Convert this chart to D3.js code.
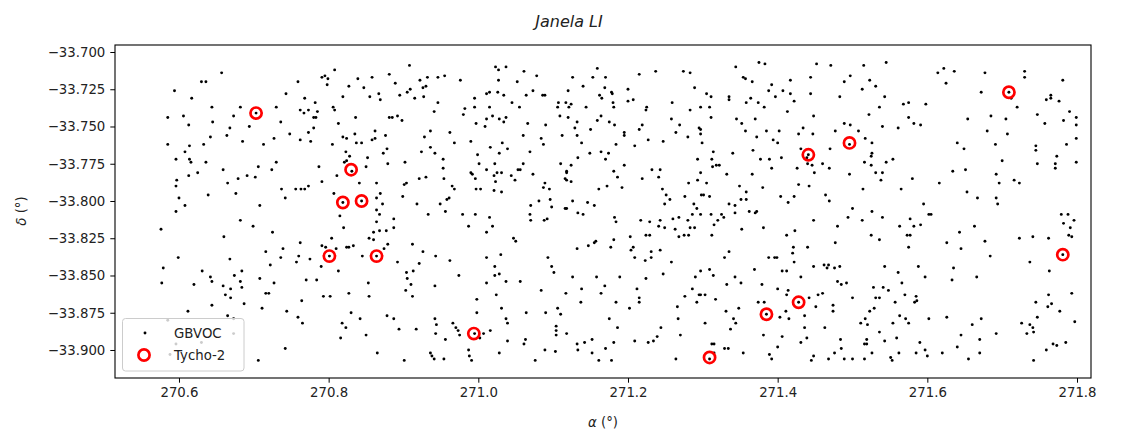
<!DOCTYPE html>
<html>
<head>
<meta charset="utf-8">
<script src="https://cdn.jsdelivr.net/npm/d3@7"></script>
<style>
  html, body { margin: 0; padding: 0; background: #fff; }
  svg { display: block; font-family: "DejaVu Sans", sans-serif; }
</style>
</head>
<body>
<svg id="chart" width="1121" height="433"></svg>
<script>
// Field stars (GBVOC) — right ascension / declination in degrees
const gbvoc = [
  [270.657,-33.714],[270.630,-33.720],[270.636,-33.720],[270.594,-33.726],[270.759,-33.720],[270.743,-33.728],
  [270.617,-33.731],[270.768,-33.731],[270.644,-33.737],[270.682,-33.737],[270.703,-33.741],[270.730,-33.737],
  [270.762,-33.739],[270.767,-33.741],[270.773,-33.739],[270.585,-33.744],[270.606,-33.743],[270.673,-33.743],
  [270.613,-33.749],[270.645,-33.747],[270.736,-33.747],[270.694,-33.750],[270.668,-33.751],[270.642,-33.757],
  [270.664,-33.756],[270.748,-33.755],[270.773,-33.754],[270.585,-33.762],[270.614,-33.763],[270.633,-33.762],
  [270.685,-33.760],[270.713,-33.762],[270.727,-33.758],[270.762,-33.759],[270.608,-33.767],[270.596,-33.772],
  [270.614,-33.772],[270.616,-33.774],[270.636,-33.774],[270.730,-33.774],[270.706,-33.777],[270.659,-33.779],
  [270.724,-33.779],[270.613,-33.783],[270.625,-33.781],[270.597,-33.786],[270.691,-33.783],[270.702,-33.784],
  [270.679,-33.785],[270.665,-33.788],[270.596,-33.790],[270.737,-33.792],[270.756,-33.792],[270.763,-33.792],
  [270.768,-33.792],[270.773,-33.790],[270.676,-33.795],[270.639,-33.796],[270.600,-33.798],[270.742,-33.798],
  [270.608,-33.803],[270.708,-33.803],
  [270.808,-33.712],[270.908,-33.709],[270.791,-33.717],[270.795,-33.716],[270.799,-33.718],[270.798,-33.722],
  [270.839,-33.718],[270.858,-33.717],[270.881,-33.715],[270.827,-33.723],[270.847,-33.724],[270.889,-33.721],
  [270.922,-33.719],[270.932,-33.717],[270.946,-33.717],[270.955,-33.716],[270.976,-33.719],[271.023,-33.710],
  [271.027,-33.712],[271.027,-33.719],[270.926,-33.724],[270.930,-33.723],[270.909,-33.725],[270.905,-33.727],
  [270.867,-33.728],[270.819,-33.730],[270.855,-33.730],[270.869,-33.732],[270.895,-33.729],[270.915,-33.731],
  [270.927,-33.730],[270.782,-33.734],[270.785,-33.740],[270.806,-33.737],[270.808,-33.739],[270.946,-33.734],
  [270.941,-33.740],[270.982,-33.738],[270.995,-33.731],[270.995,-33.737],[271.011,-33.728],[271.015,-33.727],
  [271.026,-33.727],[271.034,-33.729],[271.015,-33.737],[270.980,-33.742],[270.780,-33.744],[270.783,-33.744],
  [270.836,-33.744],[270.881,-33.744],[270.885,-33.744],[270.892,-33.743],[270.898,-33.746],[270.813,-33.748],
  [270.997,-33.748],[271.009,-33.750],[271.011,-33.745],[271.019,-33.743],[271.028,-33.745],[271.034,-33.747],
  [270.780,-33.751],[270.819,-33.757],[270.824,-33.758],[270.835,-33.755],[270.862,-33.753],[270.858,-33.759],
  [270.862,-33.758],[270.876,-33.756],[270.928,-33.757],[270.936,-33.753],[270.962,-33.754],[270.776,-33.760],
  [270.805,-33.762],[270.837,-33.761],[270.844,-33.761],[270.968,-33.761],[270.990,-33.760],[271.032,-33.761],
  [271.016,-33.764],[270.823,-33.767],[270.878,-33.765],[270.873,-33.768],[270.924,-33.767],[270.936,-33.764],
  [270.942,-33.768],[270.999,-33.769],[271.028,-33.768],[270.828,-33.770],[270.852,-33.771],[270.821,-33.774],
  [270.824,-33.773],[270.787,-33.777],[270.831,-33.780],[270.850,-33.777],[270.879,-33.775],[270.902,-33.774],
  [270.953,-33.772],[270.953,-33.778],[271.001,-33.775],[271.022,-33.775],[271.011,-33.779],[270.990,-33.781],
  [270.992,-33.782],[270.996,-33.785],[271.025,-33.781],[271.031,-33.781],[271.021,-33.783],[270.811,-33.783],
  [270.791,-33.787],[270.841,-33.788],[270.864,-33.788],[270.901,-33.789],[270.904,-33.788],[270.921,-33.785],
  [270.930,-33.784],[270.954,-33.785],[270.965,-33.790],[270.968,-33.792],[270.997,-33.792],[271.003,-33.792],
  [271.023,-33.787],[271.021,-33.793],[271.031,-33.794],[270.807,-33.795],[270.869,-33.795],[270.864,-33.798],
  [270.899,-33.797],[270.958,-33.799],[270.961,-33.798],[270.819,-33.801],[270.844,-33.800],[270.872,-33.802],
  [270.918,-33.802],[270.949,-33.802],
  [271.037,-33.710],[271.061,-33.713],[271.078,-33.716],[271.052,-33.720],[271.126,-33.717],[271.159,-33.711],
  [271.153,-33.717],[271.170,-33.717],[271.215,-33.715],[271.237,-33.713],[271.274,-33.713],[271.283,-33.714],
  [271.140,-33.723],[271.289,-33.724],[271.073,-33.726],[271.064,-33.729],[271.086,-33.729],[271.089,-33.729],
  [271.120,-33.726],[271.169,-33.724],[271.178,-33.727],[271.179,-33.728],[271.200,-33.725],[271.045,-33.734],
  [271.055,-33.737],[271.107,-33.734],[271.106,-33.737],[271.117,-33.734],[271.121,-33.737],[271.124,-33.735],
  [271.144,-33.737],[271.162,-33.729],[271.165,-33.731],[271.180,-33.734],[271.181,-33.737],[271.200,-33.733],
  [271.207,-33.732],[271.225,-33.737],[271.224,-33.739],[271.259,-33.734],[271.283,-33.739],[271.037,-33.744],
  [271.066,-33.748],[271.090,-33.749],[271.109,-33.743],[271.120,-33.744],[271.132,-33.747],[271.129,-33.751],
  [271.164,-33.743],[271.159,-33.746],[271.175,-33.747],[271.182,-33.749],[271.150,-33.752],[271.195,-33.754],
  [271.195,-33.756],[271.215,-33.752],[271.219,-33.749],[271.258,-33.745],[271.269,-33.749],[271.264,-33.754],
  [271.295,-33.751],[271.280,-33.757],[271.060,-33.756],[271.084,-33.758],[271.087,-33.762],[271.112,-33.756],
  [271.132,-33.756],[271.138,-33.761],[271.227,-33.759],[271.247,-33.760],[271.209,-33.763],[271.184,-33.762],
  [271.039,-33.765],[271.069,-33.767],[271.133,-33.771],[271.149,-33.768],[271.164,-33.767],[271.174,-33.768],
  [271.170,-33.772],[271.110,-33.775],[271.124,-33.776],[271.118,-33.780],[271.118,-33.781],[271.060,-33.775],
  [271.053,-33.779],[271.056,-33.779],[271.073,-33.782],[271.044,-33.783],[271.049,-33.786],[271.116,-33.785],
  [271.118,-33.786],[271.124,-33.787],[271.089,-33.788],[271.087,-33.791],[271.095,-33.792],[271.195,-33.776],
  [271.181,-33.780],[271.186,-33.784],[271.232,-33.779],[271.243,-33.779],[271.241,-33.784],[271.219,-33.785],
  [271.192,-33.791],[271.172,-33.790],[271.161,-33.792],[271.246,-33.792],[271.251,-33.796],[271.256,-33.799],
  [271.249,-33.802],[271.276,-33.797],[271.281,-33.788],[271.293,-33.786],[271.293,-33.772],[271.288,-33.802],
  [271.081,-33.800],[271.096,-33.799],[271.098,-33.804],[271.126,-33.800],[271.146,-33.801],[271.155,-33.803],
  [271.070,-33.803],
  [271.344,-33.710],[271.375,-33.707],[271.383,-33.708],[271.452,-33.708],[271.471,-33.709],[271.515,-33.709],
  [271.545,-33.707],[271.354,-33.717],[271.357,-33.718],[271.366,-33.720],[271.417,-33.719],[271.444,-33.717],
  [271.489,-33.720],[271.497,-33.716],[271.523,-33.719],[271.531,-33.723],[271.513,-33.725],[271.392,-33.722],
  [271.388,-33.726],[271.407,-33.726],[271.417,-33.728],[271.397,-33.730],[271.305,-33.728],[271.311,-33.730],
  [271.335,-33.730],[271.335,-33.732],[271.364,-33.731],[271.358,-33.734],[271.374,-33.734],[271.382,-33.737],
  [271.422,-33.733],[271.444,-33.728],[271.483,-33.730],[271.543,-33.730],[271.536,-33.737],[271.297,-33.737],
  [271.309,-33.737],[271.311,-33.744],[271.345,-33.745],[271.352,-33.748],[271.370,-33.745],[271.413,-33.740],
  [271.448,-33.743],[271.522,-33.742],[271.489,-33.748],[271.497,-33.749],[271.434,-33.751],[271.428,-33.755],
  [271.447,-33.755],[271.477,-33.753],[271.508,-33.753],[271.540,-33.750],[271.297,-33.752],[271.297,-33.755],
  [271.357,-33.753],[271.372,-33.757],[271.385,-33.753],[271.402,-33.753],[271.394,-33.759],[271.400,-33.761],
  [271.299,-33.761],[271.314,-33.767],[271.340,-33.768],[271.367,-33.766],[271.431,-33.765],[271.470,-33.765],
  [271.496,-33.762],[271.526,-33.761],[271.517,-33.758],[271.441,-33.769],[271.439,-33.771],[271.377,-33.772],
  [271.389,-33.772],[271.405,-33.771],[271.312,-33.772],[271.313,-33.777],[271.318,-33.776],[271.322,-33.776],
  [271.392,-33.778],[271.426,-33.778],[271.440,-33.775],[271.446,-33.776],[271.460,-33.775],[271.469,-33.778],
  [271.516,-33.774],[271.526,-33.768],[271.525,-33.770],[271.525,-33.776],[271.545,-33.774],[271.554,-33.772],
  [271.297,-33.781],[271.332,-33.782],[271.366,-33.782],[271.449,-33.781],[271.496,-33.782],[271.531,-33.781],
  [271.540,-33.781],[271.538,-33.786],[271.305,-33.788],[271.349,-33.790],[271.380,-33.791],[271.428,-33.789],
  [271.442,-33.790],[271.514,-33.792],[271.358,-33.794],[271.298,-33.796],[271.301,-33.796],[271.309,-33.797],
  [271.351,-33.799],[271.358,-33.799],[271.404,-33.797],[271.414,-33.801],[271.422,-33.797],[271.464,-33.796],
  [271.469,-33.800],[271.335,-33.802],[271.343,-33.803],
  [271.614,-33.714],[271.622,-33.711],[271.636,-33.713],[271.625,-33.721],[271.677,-33.714],[271.730,-33.713],
  [271.730,-33.717],[271.781,-33.719],[271.672,-33.727],[271.709,-33.727],[271.712,-33.731],[271.720,-33.737],
  [271.759,-33.732],[271.765,-33.729],[271.765,-33.731],[271.776,-33.733],[271.568,-33.735],[271.575,-33.734],
  [271.598,-33.735],[271.575,-33.744],[271.582,-33.748],[271.591,-33.749],[271.561,-33.751],[271.654,-33.745],
  [271.685,-33.743],[271.705,-33.745],[271.747,-33.742],[271.757,-33.748],[271.782,-33.746],[271.790,-33.740],
  [271.799,-33.744],[271.799,-33.749],[271.680,-33.753],[271.707,-33.755],[271.799,-33.758],[271.786,-33.762],
  [271.640,-33.761],[271.649,-33.765],[271.691,-33.762],[271.745,-33.763],[271.745,-33.766],[271.773,-33.770],
  [271.700,-33.773],[271.747,-33.775],[271.771,-33.775],[271.771,-33.778],[271.799,-33.774],[271.634,-33.780],
  [271.651,-33.779],[271.692,-33.782],[271.696,-33.788],[271.716,-33.786],[271.723,-33.788],[271.580,-33.785],
  [271.616,-33.788],[271.565,-33.792],[271.653,-33.794],[271.667,-33.798],[271.692,-33.798],[271.694,-33.802],
  [271.595,-33.802],
  [270.596,-33.807],[270.576,-33.819],[270.682,-33.813],[270.699,-33.817],[270.660,-33.824],[270.725,-33.821],
  [270.762,-33.828],[270.716,-33.834],[270.739,-33.832],[270.599,-33.838],[270.668,-33.839],[270.736,-33.838],
  [270.760,-33.837],[270.775,-33.839],[270.757,-33.841],[270.722,-33.843],[270.579,-33.845],[270.631,-33.847],
  [270.642,-33.851],[270.644,-33.854],[270.674,-33.850],[270.684,-33.847],[270.682,-33.854],[270.708,-33.852],
  [270.727,-33.855],[270.770,-33.853],[270.577,-33.855],[270.620,-33.856],[270.659,-33.857],[270.669,-33.859],
  [270.684,-33.858],[270.662,-33.863],[270.669,-33.865],[270.716,-33.862],[270.720,-33.862],[270.764,-33.867],
  [270.687,-33.869],[270.644,-33.870],[270.711,-33.872],[270.744,-33.874],[270.612,-33.874],[270.665,-33.877],
  [270.759,-33.878],[270.765,-33.882],[270.585,-33.880],[270.673,-33.879],[270.596,-33.896],[270.630,-33.895],
  [270.588,-33.903],[270.673,-33.889],[270.742,-33.899],[270.706,-33.907],
  [270.815,-33.810],[270.864,-33.806],[270.868,-33.809],[270.933,-33.809],[270.956,-33.807],[270.979,-33.809],
  [270.996,-33.809],[271.015,-33.811],[271.019,-33.817],[270.987,-33.817],[271.011,-33.821],[270.864,-33.814],
  [270.887,-33.812],[270.820,-33.818],[270.860,-33.821],[270.868,-33.820],[270.877,-33.820],[270.887,-33.818],
  [270.804,-33.825],[270.854,-33.825],[270.860,-33.826],[270.791,-33.830],[270.796,-33.831],[270.810,-33.832],
  [270.824,-33.831],[270.827,-33.831],[270.833,-33.830],[270.879,-33.829],[270.874,-33.832],[270.912,-33.829],
  [270.926,-33.834],[270.943,-33.837],[270.962,-33.840],[271.011,-33.838],[271.030,-33.836],[270.801,-33.837],
  [270.864,-33.837],[270.845,-33.837],[270.892,-33.841],[270.921,-33.842],[270.790,-33.844],[270.813,-33.847],
  [270.904,-33.848],[270.913,-33.847],[270.905,-33.852],[270.910,-33.856],[270.903,-33.860],[270.912,-33.864],
  [271.022,-33.844],[271.028,-33.849],[271.022,-33.850],[270.974,-33.850],[271.011,-33.855],[270.784,-33.853],
  [270.942,-33.857],[270.853,-33.855],[270.793,-33.864],[270.802,-33.864],[270.827,-33.862],[270.854,-33.864],
  [270.998,-33.866],[271.024,-33.863],[271.031,-33.872],[270.998,-33.875],[270.830,-33.875],[270.842,-33.879],
  [270.818,-33.882],[270.823,-33.885],[270.878,-33.877],[270.887,-33.879],[270.942,-33.879],[270.944,-33.883],
  [270.966,-33.882],[270.970,-33.885],[270.973,-33.887],[270.975,-33.890],[270.943,-33.889],[270.917,-33.886],
  [270.894,-33.886],[270.850,-33.890],[270.816,-33.892],[270.956,-33.893],[270.995,-33.889],[271.007,-33.889],
  [271.002,-33.892],[271.016,-33.887],[271.028,-33.902],[270.987,-33.900],[270.988,-33.904],[270.991,-33.907],
  [270.936,-33.902],[270.938,-33.904],[270.941,-33.906],[270.954,-33.906],[270.865,-33.902],[270.901,-33.907],
  [271.116,-33.805],[271.118,-33.805],[271.069,-33.809],[271.070,-33.813],[271.088,-33.813],[271.092,-33.812],
  [271.133,-33.808],[271.140,-33.809],[271.182,-33.811],[271.184,-33.814],[271.217,-33.813],[271.229,-33.814],
  [271.243,-33.813],[271.260,-33.812],[271.268,-33.811],[271.280,-33.813],[271.286,-33.809],[271.292,-33.805],
  [271.241,-33.817],[271.249,-33.818],[271.263,-33.819],[271.283,-33.818],[271.289,-33.818],[271.268,-33.824],
  [271.275,-33.823],[271.281,-33.823],[271.224,-33.823],[271.229,-33.823],[271.203,-33.824],[271.181,-33.826],
  [271.047,-33.825],[271.050,-33.827],[271.132,-33.832],[271.147,-33.830],[271.155,-33.828],[271.157,-33.827],
  [271.177,-33.831],[271.204,-33.833],[271.207,-33.831],[271.231,-33.834],[271.243,-33.833],[271.209,-33.838],
  [271.223,-33.840],[271.231,-33.838],[271.258,-33.841],[271.093,-33.838],[271.098,-33.844],[271.101,-33.848],
  [271.126,-33.851],[271.158,-33.851],[271.189,-33.851],[271.224,-33.852],[271.247,-33.849],[271.290,-33.851],
  [271.037,-33.854],[271.056,-33.854],[271.084,-33.860],[271.117,-33.862],[271.138,-33.859],[271.169,-33.857],
  [271.164,-33.862],[271.212,-33.859],[271.215,-33.865],[271.215,-33.868],[271.286,-33.859],[271.295,-33.863],
  [271.276,-33.864],[271.292,-33.868],[271.137,-33.868],[271.184,-33.868],[271.202,-33.872],[271.266,-33.871],
  [271.064,-33.875],[271.090,-33.875],[271.106,-33.872],[271.110,-33.876],[271.175,-33.879],[271.267,-33.879],
  [271.037,-33.879],[271.039,-33.882],[271.104,-33.884],[271.104,-33.887],[271.104,-33.890],[271.118,-33.889],
  [271.186,-33.885],[271.244,-33.885],[271.270,-33.890],[271.039,-33.894],[271.061,-33.896],[271.063,-33.893],
  [271.132,-33.896],[271.133,-33.900],[271.142,-33.895],[271.152,-33.893],[271.181,-33.895],[271.209,-33.894],
  [271.227,-33.895],[271.234,-33.894],[271.239,-33.891],[271.089,-33.900],[271.103,-33.901],[271.152,-33.902],
  [271.170,-33.899],[271.076,-33.907],[271.161,-33.907],[271.178,-33.907],[271.264,-33.906],
  [271.500,-33.805],[271.297,-33.809],[271.311,-33.809],[271.325,-33.809],[271.328,-33.811],[271.320,-33.813],
  [271.315,-33.816],[271.343,-33.808],[271.362,-33.807],[271.370,-33.808],[271.372,-33.807],[271.448,-33.813],
  [271.494,-33.811],[271.513,-33.813],[271.526,-33.807],[271.540,-33.811],[271.480,-33.817],[271.352,-33.819],
  [271.381,-33.818],[271.423,-33.820],[271.412,-33.823],[271.312,-33.823],[271.525,-33.823],[271.536,-33.826],
  [271.477,-33.828],[271.440,-33.831],[271.421,-33.831],[271.420,-33.835],[271.422,-33.841],[271.335,-33.834],
  [271.329,-33.838],[271.388,-33.838],[271.396,-33.838],[271.399,-33.838],[271.297,-33.847],[271.309,-33.846],
  [271.314,-33.850],[271.369,-33.846],[271.406,-33.847],[271.412,-33.847],[271.431,-33.851],[271.448,-33.844],
  [271.462,-33.843],[271.466,-33.845],[271.468,-33.843],[271.476,-33.845],[271.483,-33.844],[271.543,-33.844],
  [271.343,-33.851],[271.351,-33.855],[271.332,-33.856],[271.379,-33.856],[271.400,-33.859],[271.414,-33.860],
  [271.412,-33.863],[271.480,-33.854],[271.485,-33.856],[271.492,-33.855],[271.528,-33.858],[271.541,-33.858],
  [271.548,-33.860],[271.297,-33.863],[271.303,-33.863],[271.317,-33.866],[271.374,-33.868],[271.382,-33.868],
  [271.442,-33.865],[271.454,-33.863],[271.460,-33.862],[271.500,-33.865],[271.531,-33.865],[271.536,-33.865],
  [271.451,-33.871],[271.474,-33.870],[271.474,-33.874],[271.529,-33.872],[271.523,-33.874],[271.554,-33.882],
  [271.348,-33.872],[271.331,-33.874],[271.341,-33.879],[271.344,-33.882],[271.337,-33.886],[271.303,-33.882],
  [271.403,-33.878],[271.411,-33.874],[271.415,-33.879],[271.436,-33.877],[271.517,-33.879],[271.511,-33.882],
  [271.520,-33.883],[271.463,-33.885],[271.436,-33.885],[271.536,-33.888],[271.381,-33.890],[271.406,-33.891],
  [271.439,-33.892],[271.431,-33.895],[271.400,-33.898],[271.484,-33.893],[271.485,-33.899],[271.519,-33.893],
  [271.516,-33.896],[271.519,-33.896],[271.543,-33.894],[271.312,-33.896],[271.315,-33.896],[271.329,-33.899],
  [271.334,-33.899],[271.354,-33.902],[271.315,-33.902],[271.309,-33.906],[271.385,-33.876],[271.428,-33.868],
  [271.389,-33.903],[271.392,-33.906],[271.448,-33.904],[271.445,-33.907],[271.468,-33.906],[271.476,-33.902],
  [271.489,-33.906],[271.500,-33.906],[271.516,-33.906],[271.526,-33.902],[271.551,-33.905],[271.553,-33.907],
  [271.602,-33.809],[271.605,-33.809],[271.577,-33.812],[271.563,-33.817],[271.582,-33.817],[271.591,-33.816],
  [271.663,-33.817],[271.573,-33.823],[271.577,-33.823],[271.575,-33.831],[271.643,-33.821],[271.677,-33.827],
  [271.626,-33.828],[271.645,-33.832],[271.684,-33.837],[271.723,-33.825],[271.741,-33.824],[271.762,-33.825],
  [271.779,-33.809],[271.788,-33.809],[271.796,-33.813],[271.782,-33.815],[271.791,-33.818],[271.789,-33.823],
  [271.793,-33.824],[271.781,-33.836],[271.737,-33.841],[271.763,-33.847],[271.588,-33.844],[271.635,-33.845],
  [271.561,-33.848],[271.597,-33.851],[271.633,-33.853],[271.666,-33.851],[271.566,-33.855],[271.570,-33.863],
  [271.585,-33.864],[271.583,-33.868],[271.586,-33.867],[271.557,-33.868],[271.762,-33.863],[271.793,-33.862],
  [271.745,-33.868],[271.761,-33.871],[271.766,-33.869],[271.777,-33.874],[271.563,-33.877],[271.571,-33.879],
  [271.575,-33.882],[271.602,-33.879],[271.626,-33.878],[271.672,-33.879],[271.660,-33.883],[271.747,-33.878],
  [271.726,-33.882],[271.737,-33.883],[271.741,-33.885],[271.733,-33.889],[271.742,-33.888],[271.797,-33.881],
  [271.692,-33.889],[271.645,-33.890],[271.559,-33.892],[271.590,-33.895],[271.670,-33.893],[271.640,-33.898],
  [271.562,-33.902],[271.585,-33.902],[271.597,-33.900],[271.600,-33.904],[271.620,-33.902],[271.655,-33.906],
  [271.670,-33.902],[271.742,-33.907],[271.759,-33.900],[271.768,-33.896],[271.773,-33.897],[271.785,-33.895]
];

// Tycho-2 catalogue stars in the same window
const tycho = [
  [270.703,-33.741],[270.830,-33.779],[270.819,-33.801],[270.844,-33.800],[270.801,-33.837],
  [270.864,-33.837],[270.994,-33.889],[271.309,-33.905],[271.385,-33.876],[271.428,-33.868],
  [271.441,-33.769],[271.496,-33.761],[271.709,-33.727],[271.781,-33.836]
];

const xTicks = [270.6, 270.8, 271.0, 271.2, 271.4, 271.6, 271.8];
const yTicks = [-33.700, -33.725, -33.750, -33.775, -33.800, -33.825, -33.850, -33.875, -33.900];
const xDomain = [270.5145, 271.8187];
const yDomain = [-33.9188, -33.6953];

const title = "Janela LI";
const seriesNames = ["GBVOC", "Tycho-2"];

const margin = { left: 115, top: 45, right: 1091, bottom: 378 };

const svg = d3.select("#chart");

const x = d3.scaleLinear().domain(xDomain).range([margin.left, margin.right]);
const y = d3.scaleLinear().domain(yDomain).range([margin.bottom, margin.top]);

const minus = s => s.replace("-", "\u2212");

// Axes
const xAxis = d3.axisBottom(x).tickValues(xTicks).tickFormat(d3.format(".1f")).tickSizeOuter(0).tickSize(4.7).tickPadding(5);
const yAxis = d3.axisLeft(y).tickValues(yTicks).tickFormat(d => minus(d3.format(".3f")(d))).tickSizeOuter(0).tickSize(4.7).tickPadding(5);

const gx = svg.append("g").attr("transform", `translate(0,${margin.bottom})`).call(xAxis);
const gy = svg.append("g").attr("transform", `translate(${margin.left},0)`).call(yAxis);
[gx, gy].forEach(g => {
  g.select(".domain").remove();
  g.selectAll(".tick line").attr("stroke", "#000").attr("stroke-width", 1);
  g.selectAll(".tick text").attr("fill", "#222").style("font-size", "13.3px").style("font-family", "DejaVu Sans");
});

// Field star markers
const plot = svg.append("g");
plot.selectAll("circle.gb").data(gbvoc).join("circle")
  .attr("class", "gb")
  .attr("cx", d => x(d[0])).attr("cy", d => y(d[1]))
  .attr("r", 1.45).attr("fill", "#000");

// Tycho-2 rings
plot.selectAll("circle.ty").data(tycho).join("circle")
  .attr("class", "ty")
  .attr("cx", d => x(d[0])).attr("cy", d => y(d[1]))
  .attr("r", 5.6).attr("fill", "none").attr("stroke", "#ff0000").attr("stroke-width", 2.7);

// Frame
svg.append("rect")
  .attr("x", margin.left).attr("y", margin.top)
  .attr("width", margin.right - margin.left).attr("height", margin.bottom - margin.top)
  .attr("fill", "none").attr("stroke", "#000").attr("stroke-width", 1.1);

// Legend
const lg = svg.append("g");
lg.append("rect").attr("x", 122.5).attr("y", 318.5).attr("width", 121.5).attr("height", 52.5)
  .attr("rx", 3).attr("fill", "#fff").attr("fill-opacity", 0.8).attr("stroke", "#ccc").attr("stroke-width", 1);
lg.append("circle").attr("cx", 145).attr("cy", 333).attr("r", 1.45).attr("fill", "#000");
lg.append("circle").attr("cx", 144).attr("cy", 355).attr("r", 5.6).attr("fill", "none").attr("stroke", "#ff0000").attr("stroke-width", 2.7);
lg.selectAll("text").data(seriesNames).join("text")
  .attr("x", 174).attr("y", (d, i) => 333 + i * 22)
  .attr("dy", "0.35em")
  .style("font-size", "13.3px").attr("fill", "#222")
  .text(d => d);

// Title and axis labels
svg.append("text").attr("x", 569).attr("y", 27).attr("text-anchor", "middle")
  .style("font-size", "16px").style("font-style", "italic").attr("fill", "#222").text(title);

const xl = svg.append("text").attr("x", 603).attr("y", 427).attr("text-anchor", "middle")
  .style("font-size", "13.3px").attr("fill", "#222");
xl.append("tspan").style("font-style", "italic").text("\u03b1");
xl.append("tspan").text(" (\u00b0)");

const yl = svg.append("text").attr("transform", "translate(26,211) rotate(-90)").attr("text-anchor", "middle")
  .style("font-size", "13.3px").attr("fill", "#222");
yl.append("tspan").style("font-style", "italic").text("\u03b4");
yl.append("tspan").text(" (\u00b0)");
</script>
</body>
</html>
